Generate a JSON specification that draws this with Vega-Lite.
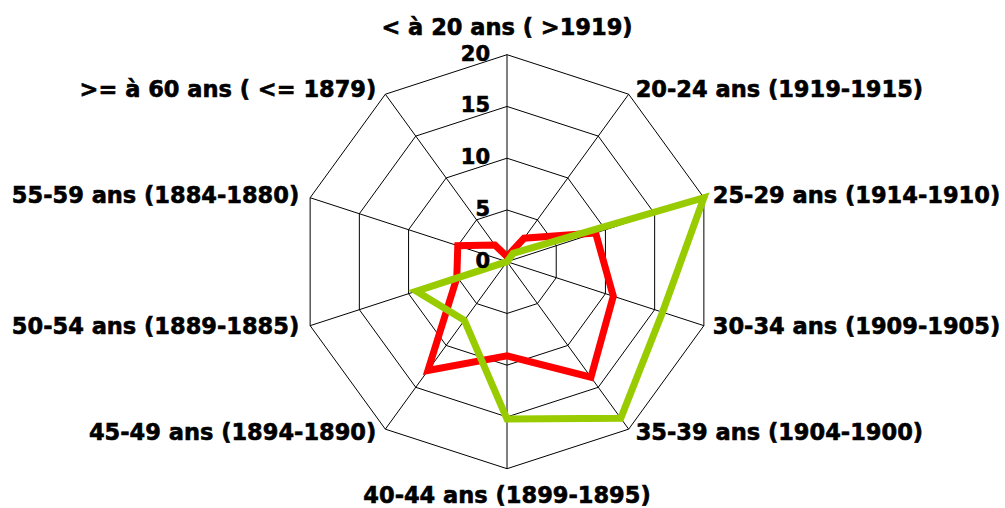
{
  "$schema": "https://vega.github.io/schema/vega-lite/v6.json",
  "width": 1005,
  "height": 508,
  "autosize": "none",
  "padding": 0,
  "background": "white",
  "config": {"view": {"stroke": null}},
  "datasets": {
    "axes": [
      {"idx": 0, "cat": "< à 20 ans ( >1919)", "rings": [5, 10, 15, 20]},
      {"idx": 1, "cat": "20-24 ans (1919-1915)", "rings": [5, 10, 15, 20]},
      {"idx": 2, "cat": "25-29 ans (1914-1910)", "rings": [5, 10, 15, 20]},
      {"idx": 3, "cat": "30-34 ans (1909-1905)", "rings": [5, 10, 15, 20]},
      {"idx": 4, "cat": "35-39 ans (1904-1900)", "rings": [5, 10, 15, 20]},
      {"idx": 5, "cat": "40-44 ans (1899-1895)", "rings": [5, 10, 15, 20]},
      {"idx": 6, "cat": "45-49 ans (1894-1890)", "rings": [5, 10, 15, 20]},
      {"idx": 7, "cat": "50-54 ans (1889-1885)", "rings": [5, 10, 15, 20]},
      {"idx": 8, "cat": "55-59 ans (1884-1880)", "rings": [5, 10, 15, 20]},
      {"idx": 9, "cat": ">= à 60 ans ( <= 1879)", "rings": [5, 10, 15, 20]}
    ],
    "series": [
      {"idx": 0, "serie": "Série 1", "value": 0.5},
      {"idx": 1, "serie": "Série 1", "value": 2.8},
      {"idx": 2, "serie": "Série 1", "value": 9.0},
      {"idx": 3, "serie": "Série 1", "value": 10.8},
      {"idx": 4, "serie": "Série 1", "value": 13.8},
      {"idx": 5, "serie": "Série 1", "value": 9.1},
      {"idx": 6, "serie": "Série 1", "value": 13.0},
      {"idx": 7, "serie": "Série 1", "value": 5.1},
      {"idx": 8, "serie": "Série 1", "value": 5.0},
      {"idx": 9, "serie": "Série 1", "value": 2.0},
      {"idx": 0, "serie": "Série 2", "value": 0},
      {"idx": 1, "serie": "Série 2", "value": 1.0},
      {"idx": 2, "serie": "Série 2", "value": 20.0},
      {"idx": 3, "serie": "Série 2", "value": 15.8},
      {"idx": 4, "serie": "Série 2", "value": 18.7},
      {"idx": 5, "serie": "Série 2", "value": 15.2},
      {"idx": 6, "serie": "Série 2", "value": 7.0},
      {"idx": 7, "serie": "Série 2", "value": 9.2},
      {"idx": 8, "serie": "Série 2", "value": 0},
      {"idx": 9, "serie": "Série 2", "value": 0}
    ],
    "levels": [
      {"level": 0}, {"level": 5}, {"level": 10}, {"level": 15}, {"level": 20}
    ]
  },
  "layer": [
    {
      "data": {"name": "axes"},
      "transform": [
        {"flatten": ["rings"]},
        {"calculate": "datum.rings * sin(datum.idx * PI / 5)", "as": "gx"},
        {"calculate": "datum.rings * cos(datum.idx * PI / 5)", "as": "gy"}
      ],
      "mark": {"type": "line", "interpolate": "linear-closed", "color": "black", "strokeWidth": 1},
      "encoding": {
        "x": {"field": "gx", "type": "quantitative", "scale": {"domain": [-48.986, 48.116], "nice": false, "zero": false}, "axis": null},
        "y": {"field": "gy", "type": "quantitative", "scale": {"domain": [-23.797, 25.285], "nice": false, "zero": false}, "axis": null},
        "detail": {"field": "rings", "type": "nominal"},
        "order": {"field": "idx", "type": "quantitative"}
      }
    },
    {
      "data": {"name": "axes"},
      "transform": [
        {"calculate": "0", "as": "zero"},
        {"calculate": "20 * sin(datum.idx * PI / 5)", "as": "sx"},
        {"calculate": "20 * cos(datum.idx * PI / 5)", "as": "sy"}
      ],
      "mark": {"type": "rule", "color": "black", "strokeWidth": 1},
      "encoding": {
        "x": {"field": "zero", "type": "quantitative", "scale": {"domain": [-48.986, 48.116], "nice": false, "zero": false}, "axis": null},
        "y": {"field": "zero", "type": "quantitative", "scale": {"domain": [-23.797, 25.285], "nice": false, "zero": false}, "axis": null},
        "x2": {"field": "sx"},
        "y2": {"field": "sy"}
      }
    },
    {
      "data": {"name": "series"},
      "transform": [
        {"filter": "datum.serie === 'Série 1'"},
        {"calculate": "datum.value * sin(datum.idx * PI / 5)", "as": "px"},
        {"calculate": "datum.value * cos(datum.idx * PI / 5)", "as": "py"}
      ],
      "mark": {"type": "line", "interpolate": "linear-closed", "color": "#FF0000", "strokeWidth": 7, "strokeJoin": "miter"},
      "encoding": {
        "x": {"field": "px", "type": "quantitative", "scale": {"domain": [-48.986, 48.116], "nice": false, "zero": false}, "axis": null},
        "y": {"field": "py", "type": "quantitative", "scale": {"domain": [-23.797, 25.285], "nice": false, "zero": false}, "axis": null},
        "order": {"field": "idx", "type": "quantitative"}
      }
    },
    {
      "data": {"name": "series"},
      "transform": [
        {"filter": "datum.serie === 'Série 2'"},
        {"calculate": "datum.value * sin(datum.idx * PI / 5)", "as": "px"},
        {"calculate": "datum.value * cos(datum.idx * PI / 5)", "as": "py"}
      ],
      "mark": {"type": "line", "interpolate": "linear-closed", "color": "#99CC00", "strokeWidth": 7, "strokeJoin": "miter"},
      "encoding": {
        "x": {"field": "px", "type": "quantitative", "scale": {"domain": [-48.986, 48.116], "nice": false, "zero": false}, "axis": null},
        "y": {"field": "py", "type": "quantitative", "scale": {"domain": [-23.797, 25.285], "nice": false, "zero": false}, "axis": null},
        "order": {"field": "idx", "type": "quantitative"}
      }
    },
    {
      "data": {"name": "levels"},
      "transform": [{"calculate": "0", "as": "zero"}],
      "mark": {"type": "text", "align": "right", "baseline": "middle", "dx": -17, "font": "DejaVu Sans", "fontWeight": "bold", "fontSize": 21, "color": "black", "stroke": "black", "strokeWidth": 0.6},
      "encoding": {
        "x": {"field": "zero", "type": "quantitative", "scale": {"domain": [-48.986, 48.116], "nice": false, "zero": false}, "axis": null},
        "y": {"field": "level", "type": "quantitative", "scale": {"domain": [-23.797, 25.285], "nice": false, "zero": false}, "axis": null},
        "text": {"field": "level", "type": "quantitative"}
      }
    },
    {
      "data": {"name": "axes"},
      "transform": [
        {"calculate": "20.5 * sin(datum.idx * PI / 5)", "as": "lx"},
        {"calculate": "20.5 * cos(datum.idx * PI / 5)", "as": "ly"}
      ],
      "encoding": {
        "x": {"field": "lx", "type": "quantitative", "scale": {"domain": [-48.986, 48.116], "nice": false, "zero": false}, "axis": null},
        "y": {"field": "ly", "type": "quantitative", "scale": {"domain": [-23.797, 25.285], "nice": false, "zero": false}, "axis": null},
        "text": {"field": "cat", "type": "nominal"}
      },
      "layer": [
        {
          "transform": [{"filter": "datum.idx >= 1 && datum.idx <= 4"}],
          "mark": {"type": "text", "align": "left", "baseline": "middle", "dx": 4, "font": "DejaVu Sans", "fontWeight": "bold", "fontSize": 22.5, "color": "black", "stroke": "black", "strokeWidth": 0.6}
        },
        {
          "transform": [{"filter": "datum.idx >= 6"}],
          "mark": {"type": "text", "align": "right", "baseline": "middle", "dx": -6, "font": "DejaVu Sans", "fontWeight": "bold", "fontSize": 22.5, "color": "black", "stroke": "black", "strokeWidth": 0.6}
        },
        {
          "transform": [{"filter": "datum.idx === 0"}],
          "mark": {"type": "text", "align": "center", "baseline": "alphabetic", "dy": -14.5, "font": "DejaVu Sans", "fontWeight": "bold", "fontSize": 22.5, "color": "black", "stroke": "black", "strokeWidth": 0.6}
        },
        {
          "transform": [{"filter": "datum.idx === 5"}],
          "mark": {"type": "text", "align": "center", "baseline": "alphabetic", "dy": 29.4, "font": "DejaVu Sans", "fontWeight": "bold", "fontSize": 22.5, "color": "black", "stroke": "black", "strokeWidth": 0.6}
        }
      ]
    }
  ]
}
